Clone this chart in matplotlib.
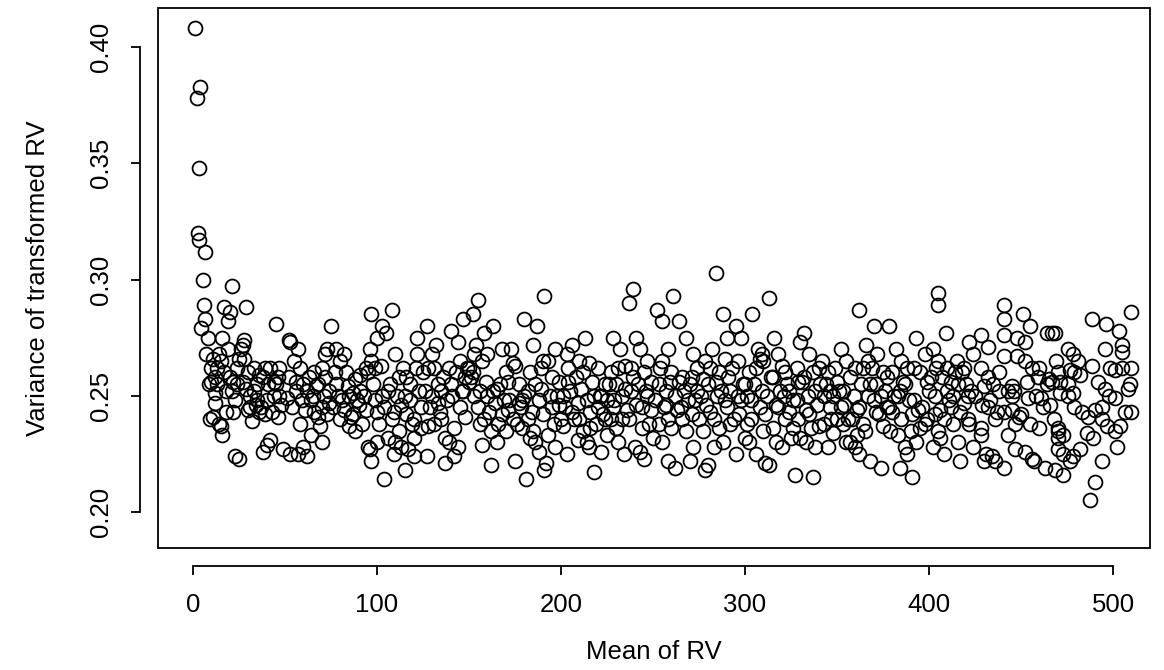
import numpy as np
import matplotlib.pyplot as plt
from matplotlib.patches import Rectangle

# (mean of RV, variance of transformed RV in 1e-3)
pts_000 = [(1,408),(2,378),(4,383),(3.5,348),(3,320),(3.3,317),(6.5,312),(5.5,300),(6,289),(6.3,283),
           (4.3,279),(8,275),(7,268),(8.5,255),(10,256),(9,240),(12,247),(11,241),(21,297),(17,288),
           (20,286),(19,282),(16,275),(14,268),(15,265),(13,262),(12,258),(12,251),(18,243),(14,238),
           (15,237),(16,233),(22,243),(23,224),(25,223),(20,258),(22,256),(24,262),(25,266),(19,270),
           (17,260),(21,252),(23,248),(24,255),(13,255),(18,252),(10,262),(11,266)]
pts_025 = [(26,270),(27,272),(28,274),(29,288),(28,266),(30,260),(27,256),(31,250),(32,239),(33,252),
           (34,246),(35,255),(36,243),(37,245),(38,258),(38,226),(39,262),(40,248),(40,229),(41,255),
           (42,231),(42,262),(43,243),(44,250),(45,281),(45,255),(46,241),(47,262),(48,246),(49,227),
           (36,259),(33,262),(31,245),(30,244),(44,256),(47,250),(39,242),(35,248),(29,253),(46,258)]
pts_050 = [(51,249),(52,274),(53,273),(53,225),(54,245),(55,265),(56,256),(57,270),(57,225),(58,262),
           (58,238),(59,248),(60,255),(60,228),(61,244),(62,224),(62,252),(63,258),(64,233),(65,250),
           (66,260),(66,243),(67,254),(68,255),(69,237),(70,262),(70,245),(70,230),(71,250),(72,268),
           (72,258),(73,270),(73,242),(74,252),(75,280),(74,247),(56,252),(64,248),(68,241),(52,258)]
pts_075 = [(76,245),(77,260),(78,270),(78,255),(79,250),(80,265),(80,240),(81,248),(82,244),(83,260),
           (84,254),(85,250),(85,237),(86,241),(87,242),(88,235),(88,257),(89,248),(90,246),(91,252),
           (92,238),(93,250),(94,262),(95,260),(95,228),(96,270),(96,227),(97,265),(97,285),(97,222),
           (98,255),(99,248),(100,275),(100,230),(100,243),(99,262),(82,268),(91,259),(87,251),(94,244)]
pts_100 = [(101,238),(102,263),(103,280),(103,250),(104,245),(104,214),(105,277),(106,232),(107,255),(108,287),
           (108,240),(109,225),(110,268),(110,230),(111,250),(112,235),(112,258),(113,246),(114,262),(115,250),
           (115,218),(116,242),(117,227),(118,255),(119,238),(120,232),(120,240),(121,262),(122,268),(122,275),
           (123,252),(124,245),(125,260),(118,248),(106,252),(113,228),(109,243),(116,258),(124,236),(120,224)]
pts_125 = [(126,252),(127,280),(127,224),(128,262),(129,245),(130,268),(130,250),(131,238),(132,272),(133,255),
           (134,243),(135,240),(136,258),(137,232),(137,221),(138,248),(139,230),(140,278),(140,255),(141,250),
           (142,236),(143,260),(144,273),(145,265),(146,252),(147,283),(147,252),(148,258),(149,262),(150,256),
           (150,262),(145,245),(142,224),(133,247),(128,237),(139,262),(148,241),(135,252),(131,262),(144,228)]
pts_150 = [(151,258),(152,285),(152,260),(153,250),(154,272),(155,291),(155,245),(156,252),(157,265),(157,229),
           (158,277),(158,240),(159,256),(160,250),(161,243),(162,235),(162,220),(163,280),(164,247),(165,253),
           (166,238),(167,255),(168,270),(168,242),(169,248),(170,260),(170,235),(171,244),(172,248),(173,270),
           (174,264),(175,263),(175,222),(160,268),(165,230),(153,268),(171,256),(163,252),(156,238),(174,240)]
pts_175 = [(176,238),(177,255),(178,245),(179,248),(180,283),(180,250),(181,214),(182,240),(183,260),(183,232),
           (184,243),(185,272),(185,235),(186,255),(187,280),(188,226),(188,248),(189,262),(190,265),(190,242),
           (191,293),(191,218),(192,221),(193,265),(194,250),(195,245),(196,238),(197,270),(197,228),(198,250),
           (199,256),(200,240),(186,230),(179,236),(195,258),(182,252),(199,246),(177,247),(189,253),(193,233)]
pts_200 = [(201,250),(202,245),(203,268),(203,225),(204,256),(205,252),(206,272),(207,240),(208,258),(209,247),
           (210,265),(210,240),(211,253),(212,235),(213,275),(214,248),(215,264),(215,228),(216,243),(217,256),
           (218,217),(219,238),(220,262),(220,245),(221,250),(222,250),(222,226),(223,242),(224,240),(225,233),
           (212,260),(206,243),(218,250),(209,231),(224,255),(204,262),(216,236),(214,230),(225,248),(201,237)]
pts_225 = [(226,255),(227,240),(228,275),(228,245),(229,248),(230,255),(230,236),(231,262),(232,270),(233,250),
           (234,225),(235,263),(236,244),(237,290),(237,240),(238,252),(239,296),(240,228),(241,275),(242,255),
           (243,270),(243,226),(244,245),(245,260),(245,223),(246,252),(247,250),(248,238),(249,256),(250,232),
           (233,240),(239,258),(247,265),(231,230),(241,246),(235,253),(244,236),(227,260),(249,244),(238,262)]
pts_250 = [(251,248),(252,287),(253,255),(254,262),(255,282),(255,265),(255,230),(256,245),(257,252),(258,270),
           (258,240),(258,222),(259,256),(260,260),(261,293),(262,250),(262,219),(263,244),(264,282),(265,245),
           (266,258),(267,252),(268,275),(268,235),(269,248),(270,255),(270,222),(271,242),(272,268),(272,228),
           (273,248),(274,262),(275,240),(260,236),(266,240),(253,238),(264,256),(271,258),(257,246),(274,252)]
pts_275 = [(276,250),(277,235),(278,265),(278,218),(279,246),(280,255),(280,220),(281,243),(282,270),(283,240),
           (284,303),(284,256),(285,250),(286,260),(287,252),(288,285),(288,230),(289,248),(290,275),(290,245),
           (291,258),(292,252),(293,262),(294,240),(295,280),(295,225),(296,265),(297,242),(298,275),(298,248),
           (299,255),(300,255),(300,232),(286,236),(292,238),(281,262),(289,266),(296,250),(283,228),(277,257)]
pts_300 = [(301,250),(302,260),(302,230),(303,240),(304,285),(305,255),(306,225),(307,270),(308,245),(309,252),
           (310,265),(310,235),(311,221),(312,250),(313,292),(313,220),(314,258),(315,258),(316,275),(317,246),
           (318,268),(318,245),(319,252),(320,263),(320,228),(321,250),(322,240),(323,255),(324,243),(325,232),
           (306,262),(311,242),(315,236),(303,248),(308,266),(322,260),(317,230),(324,252),(301,238),(309,268)]
pts_325 = [(326,248),(327,216),(328,262),(328,248),(329,240),(330,273),(330,232),(331,256),(332,277),(332,258),
           (333,244),(334,250),(335,268),(335,242),(336,236),(337,215),(338,252),(338,228),(339,246),(340,237),
           (341,255),(342,265),(343,250),(344,255),(345,260),(345,228),(346,245),(347,240),(348,250),(349,262),
           (350,240),(337,260),(343,238),(333,230),(348,234),(340,262),(346,252),(329,256),(350,256),(326,236)]
pts_350 = [(351,252),(352,270),(353,252),(354,246),(355,265),(355,230),(356,240),(357,258),(362,287),(358,240),
           (359,250),(360,262),(361,244),(362,245),(362,225),(363,255),(364,238),(365,235),(366,272),(367,250),
           (368,255),(368,222),(369,262),(370,280),(370,248),(371,243),(372,268),(373,242),(374,219),(375,260),
           (375,237),(357,230),(364,262),(360,228),(371,255),(353,238),(367,265),(374,250),(361,233),(352,245)]
pts_375 = [(376,252),(377,245),(378,280),(378,245),(379,235),(380,260),(381,250),(382,270),(383,250),(384,219),
           (385,265),(385,240),(386,256),(387,255),(388,225),(389,248),(390,235),(391,215),(392,262),(393,275),
           (393,230),(394,244),(395,260),(405,294),(396,245),(405,289),(398,268),(398,238),(399,256),(400,252),
           (388,262),(383,233),(391,242),(380,243),(395,236),(387,228),(399,240),(377,258),(384,252),(392,248)]
pts_400 = [(401,258),(402,270),(402,228),(403,250),(404,262),(405,265),(405,235),(406,244),(407,258),(408,240),
           (408,225),(409,277),(410,252),(411,248),(412,245),(413,250),(414,260),(415,265),(416,255),(417,243),
           (417,222),(418,260),(419,247),(420,255),(421,240),(422,273),(422,238),(423,252),(424,268),(424,228),
           (410,262),(406,232),(413,238),(419,262),(403,242),(416,230),(421,250),(412,256)]
pts_425 = [(428,276),(432,271),(441,289),(441,283),(441,276),(448,275),(452,273),(451,285),(441,267),(448,267),
           (452,265),(428,262),(432,258),(435,255),(430,254),(438,252),(443,252),(445,254),(445,250),(446,252),
           (429,246),(432,245),(437,243),(445,244),(441,243),(428,236),(428,233),(443,233),(431,225),(430,222),
           (436,222),(434,224),(441,219),(447,227),(425,250),(436,240),(433,248),(438,260),(447,238),(449,241)]
pts_450 = [(455,280),(464,277),(467,277),(456,262),(459,258),(464,255),(470,260),(465,257),(467,256),(471,251),
           (454,249),(458,250),(461,249),(450,242),(455,238),(460,236),(468,240),(470,236),(473,233),(452,226),
           (456,223),(457,222),(463,219),(473,216),(473,225),(462,245),(466,246),(453,256),(460,262),(469,265)]
pts_475 = [(468.5,277),(488.5,283),(496,281),(503,278),(510,286),(495.5,270),(505,272),(505,269),(475.5,270),
           (478.5,268),(481,265),(488.5,263),(476.5,261),(479,260),(482,259),(498.5,262),(501,261),(505,262),
           (510,262),(471,256),(475.5,255),(478,251),(475.5,250),(492,256),(495.5,253),(498,250),(501,249),
           (508,253),(509,255),(479,245),(483,243),(486.5,241),(490,244),(494,245),(494,240),(497,237),
           (501,235),(504,237),(506.5,243),(510,243),(470,235),(470,232),(470,227),(486,234),(489,232),
           (482,227),(478,224),(476.5,222),(502,228),(494,222),(468.5,218),(490,213),(487.5,205)]

blocks = [pts_000, pts_025, pts_050, pts_075, pts_100, pts_125, pts_150, pts_175, pts_200, pts_225,
          pts_250, pts_275, pts_300, pts_325, pts_350, pts_375, pts_400, pts_425, pts_450, pts_475]
pts = np.array([p for b in blocks for p in b], dtype=float)
mean_rv = pts[:, 0]
var_rv = pts[:, 1] / 1000

x_ticks = [0, 100, 200, 300, 400, 500]
y_ticks = [0.20, 0.25, 0.30, 0.35, 0.40]

plt.rcParams['font.family'] = ['Liberation Sans', 'DejaVu Sans']
fs = 18.5

fig = plt.figure(figsize=(11.64, 6.70), dpi=100)
ax = fig.add_axes([158/1164, 1 - 548/670, 992/1164, 540/670])

ax.plot(mean_rv, var_rv, 'o', mfc='none', mec='black', mew=1.3, ms=10)

ax.set_xlim(-19, 520.1)
ax.set_ylim(0.1845, 0.4168)

# R style: box plus detached axes
for s in ['top', 'right']:
    ax.spines[s].set_visible(False)
ax.add_patch(Rectangle((0, 0), 1, 1, transform=ax.transAxes, fill=False,
                       lw=1.3, ec='black', clip_on=False))
ax.spines['bottom'].set_position(('outward', 13))
ax.spines['left'].set_position(('outward', 13))
ax.spines['bottom'].set_bounds(0, 500)
ax.spines['left'].set_bounds(0.20, 0.40)
ax.spines['bottom'].set_linewidth(1.3)
ax.spines['left'].set_linewidth(1.3)

ax.set_xticks(x_ticks)
ax.set_yticks(y_ticks)
ax.set_yticklabels([f'{v:.2f}' for v in y_ticks])
ax.tick_params(length=6.5, width=1.3, labelsize=fs, pad=13)
for lab in ax.get_yticklabels():
    lab.set_rotation(90)
    lab.set_va('center')

ax.set_xlabel('Mean of RV', fontsize=fs, va='center')
ax.set_ylabel('Variance of transformed RV', fontsize=fs, va='center')
ax.xaxis.set_label_coords(0.5, -(652 - 548) / 540)
ax.yaxis.set_label_coords(-(158 - 38) / 992, 0.5)

fig.savefig('out.png', dpi=100)
